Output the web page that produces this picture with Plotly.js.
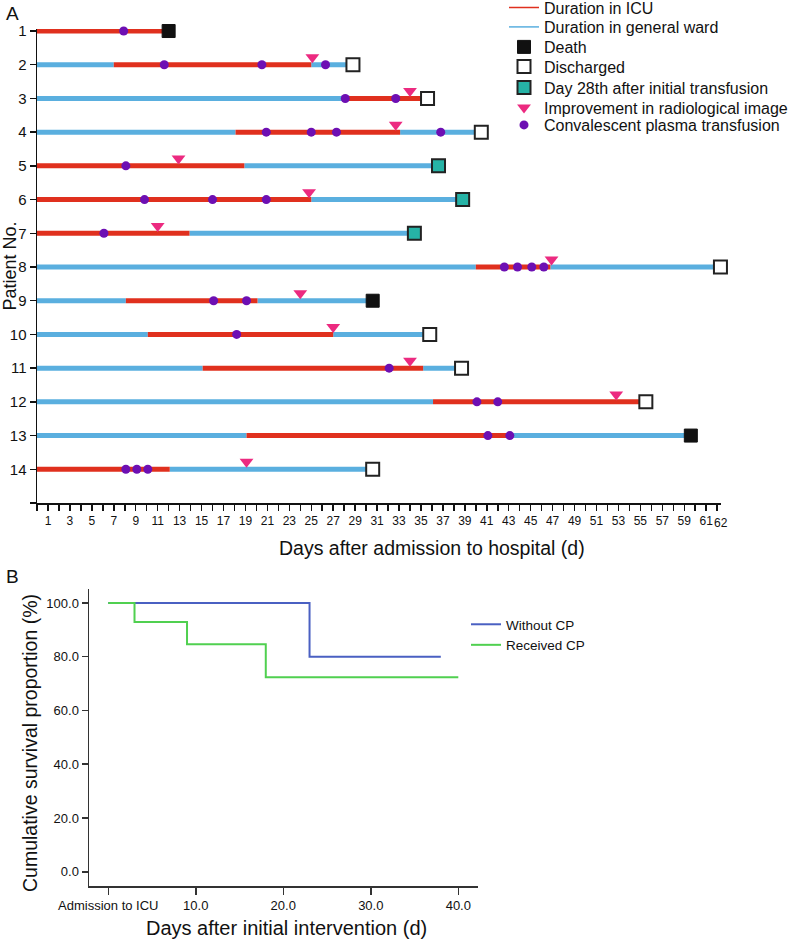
<!DOCTYPE html>
<html>
<head>
<meta charset="utf-8">
<script src="https://cdn.plot.ly/plotly-3.0.1.min.js"></script>
<style>
  html, body { margin: 0; padding: 0; background: #fff; }
  #chart { width: 797px; height: 940px; }
</style>
</head>
<body>
<div id="chart"></div>
<script>
// Panel A: one row per patient
const patients = [1, 2, 3, 4, 5, 6, 7, 8, 9, 10, 11, 12, 13, 14];
const icuStart = [0, 7, 28.1, 18.1, 0, 0, 0, 40, 8.1, 10.1, 15.1, 36.1, 19.1, 0];
const icuEnd = [12, 25, 35.6, 33.1, 18.9, 25, 13.9, 46.8, 20.1, 27, 35.2, 55.5, 43.1, 12.1];
const endDay = [12, 28.8, 35.6, 40.5, 36.6, 38.8, 34.4, 62.3, 30.6, 35.8, 38.7, 55.5, 59.6, 30.6];
const outcome = ['death', 'discharged', 'discharged', 'discharged', 'day28', 'day28', 'day28',
  'discharged', 'death', 'discharged', 'discharged', 'discharged', 'death', 'discharged'];

// improvement in radiological image
const imgPatient = [2, 3, 4, 5, 6, 7, 8, 9, 10, 11, 12, 14];
const imgDay = [25.1, 34.0, 32.7, 12.9, 24.8, 11.0, 46.9, 24.0, 27.0, 34.0, 52.8, 19.1];

// convalescent plasma transfusions
const cpPatient = [1, 2, 2, 2, 3, 3, 4, 4, 4, 4, 5, 6, 6, 6, 7, 8, 8, 8, 8, 9, 9, 10, 11, 12, 12, 13, 13, 14, 14, 14];
const cpDay = [7.9, 11.6, 20.5, 26.3, 28.1, 32.7, 20.9, 25.0, 27.3, 36.8, 8.1, 9.8, 16.0, 20.9, 6.1,
  42.6, 43.8, 45.1, 46.2, 16.1, 19.1, 18.2, 32.1, 40.1, 42.0, 41.1, 43.1, 8.1, 9.1, 10.1];

// Panel B: Kaplan-Meier curves
const withoutDays = [0, 23, 38];
const withoutSurv = [100, 80, 80];
const receivedDays = [0, 3, 9, 18, 40];
const receivedSurv = [100, 92.9, 84.6, 72.4, 72.4];
const kmTicks = [0, 10, 20, 30, 40];
const kmLabels = ['Admission to ICU', '10.0', '20.0', '30.0', '40.0'];

// day axis: every day ticked, odd days labelled (62 added as annotation)
const dayTicks = [];
const dayLabels = [];
for (let d = 0; d <= 62; d++) {
  dayTicks.push(d);
  dayLabels.push(d % 2 === 1 ? String(d) : '');
}

const FONT = 'Liberation Sans, Arial, sans-serif';
const RED = '#e0301e';
const BLUE = '#5aafdf';

// build segments
const icuX = [], icuY = [], wardX = [], wardY = [];
patients.forEach((p, i) => {
  icuX.push(icuStart[i], icuEnd[i], null);
  icuY.push(p, p, null);
  if (icuStart[i] > 0) {
    wardX.push(0, icuStart[i], null);
    wardY.push(p, p, null);
  }
  if (endDay[i] > icuEnd[i]) {
    wardX.push(icuEnd[i], endDay[i], null);
    wardY.push(p, p, null);
  }
});

const pick = (kind) => {
  const xs = [], ys = [];
  patients.forEach((p, i) => {
    if (outcome[i] === kind) { xs.push(endDay[i]); ys.push(p); }
  });
  return { x: xs, y: ys };
};
const death = pick('death');
const disch = pick('discharged');
const day28 = pick('day28');

const base = { xaxis: 'x', yaxis: 'y', type: 'scatter', cliponaxis: false, hoverinfo: 'skip' };

const data = [
  Object.assign({}, base, { x: wardX, y: wardY, mode: 'lines', line: { color: BLUE, width: 5 }, showlegend: false }),
  Object.assign({}, base, { x: icuX, y: icuY, mode: 'lines', line: { color: RED, width: 5 }, showlegend: false }),
  // legend-only entries with thin lines
  Object.assign({}, base, { x: [null], y: [null], mode: 'lines', line: { color: RED, width: 1.5 },
    name: 'Duration in ICU', legend: 'legend' }),
  Object.assign({}, base, { x: [null], y: [null], mode: 'lines', line: { color: BLUE, width: 1.5 },
    name: 'Duration in general ward', legend: 'legend2' }),
  Object.assign({}, base, { x: death.x, y: death.y, mode: 'markers', name: 'Death', legend: 'legend3',
    marker: { symbol: 'square', size: 13, color: '#111111', line: { color: '#111111', width: 1 } } }),
  Object.assign({}, base, { x: disch.x, y: disch.y, mode: 'markers', name: 'Discharged', legend: 'legend4',
    marker: { symbol: 'square', size: 13, color: '#ffffff', line: { color: '#222222', width: 2 } } }),
  Object.assign({}, base, { x: day28.x, y: day28.y, mode: 'markers', name: 'Day 28th after initial transfusion', legend: 'legend5',
    marker: { symbol: 'square', size: 13, color: '#26b3a6', line: { color: '#222222', width: 2 } } }),
  Object.assign({}, base, { x: imgDay, y: imgPatient.map(p => p - 0.22), mode: 'markers',
    name: 'Improvement in radiological image', legend: 'legend6',
    marker: { symbol: 'triangle-down', size: 12, color: '#ec2a80' } }),
  Object.assign({}, base, { x: cpDay, y: cpPatient, mode: 'markers', name: 'Convalescent plasma transfusion', legend: 'legend7',
    marker: { symbol: 'circle', size: 9, color: '#6d0fb3' } }),
  // panel B
  { x: withoutDays, y: withoutSurv, xaxis: 'x2', yaxis: 'y2', type: 'scatter', mode: 'lines',
    line: { shape: 'hv', color: '#4a60c2', width: 2 }, name: 'Without CP', legend: 'legend8', hoverinfo: 'skip' },
  { x: receivedDays, y: receivedSurv, xaxis: 'x2', yaxis: 'y2', type: 'scatter', mode: 'lines',
    line: { shape: 'hv', color: '#50d050', width: 2 }, name: 'Received CP', legend: 'legend8', hoverinfo: 'skip' }
];

const axisStyle = {
  ticks: 'outside',
  tickwidth: 1.5,
  tickcolor: '#111',
  showline: true,
  linecolor: '#111',
  linewidth: 1.5,
  showgrid: false,
  zeroline: false
};

const legendRows = [7.5, 27, 47, 66.5, 87.5, 107.5, 125];
const legendA = (row) => ({
  x: 504 / 797,
  y: 1 - row / 940,
  xanchor: 'left',
  yanchor: 'middle',
  bgcolor: 'rgba(0,0,0,0)',
  font: { size: 16, color: '#111' },
  itemwidth: 30
});

const layout = {
  width: 797,
  height: 940,
  margin: { l: 0, r: 0, t: 0, b: 0, autoexpand: false },
  paper_bgcolor: '#ffffff',
  plot_bgcolor: '#ffffff',
  font: { family: FONT, color: '#111111' },
  xaxis: Object.assign({}, axisStyle, {
    domain: [37 / 797, 721 / 797],
    anchor: 'y',
    range: [0, 62.35],
    tickvals: dayTicks,
    ticktext: dayLabels,
    tickangle: 0,
    ticklen: 6,
    tickfont: { size: 12, color: '#111' }
  }),
  yaxis: Object.assign({}, axisStyle, {
    domain: [1 - 503 / 940, 1 - 29 / 940],
    anchor: 'x',
    range: [15, 0.94],
    tickvals: patients.concat([15]),
    ticktext: patients.map(String).concat(['']),
    ticklen: 6,
    tickfont: { size: 15, color: '#111' },
    title: { text: 'Patient No.', font: { size: 18, color: '#111' }, standoff: 5 }
  }),
  xaxis2: Object.assign({}, axisStyle, {
    domain: [89 / 797, 478 / 797],
    anchor: 'y2',
    range: [-2.2, 42.25],
    tickvals: kmTicks,
    ticktext: kmLabels,
    tickangle: 0,
    ticklen: 7,
    tickcolor: '#333',
    linecolor: '#333',
    tickfont: { size: 13, color: '#111' }
  }),
  yaxis2: Object.assign({}, axisStyle, {
    domain: [1 - 886 / 940, 1 - 589 / 940],
    anchor: 'x2',
    range: [-5.3, 105.2],
    tickvals: [0, 20, 40, 60, 80, 100],
    tickformat: '.1f',
    ticklen: 6,
    tickcolor: '#333',
    linecolor: '#333',
    tickfont: { size: 13, color: '#111' }
  }),
  legend: legendA(legendRows[0]),
  legend2: legendA(legendRows[1]),
  legend3: legendA(legendRows[2]),
  legend4: legendA(legendRows[3]),
  legend5: legendA(legendRows[4]),
  legend6: legendA(legendRows[5]),
  legend7: legendA(legendRows[6]),
  legend8: {
    x: 466 / 797,
    y: 1 - 609 / 940,
    xanchor: 'left',
    yanchor: 'top',
    bgcolor: 'rgba(0,0,0,0)',
    font: { size: 13.5, color: '#111' },
    itemwidth: 30
  },
  annotations: [
    { text: 'A', xref: 'paper', yref: 'paper', x: 4 / 797, y: 1 - 14 / 940, xanchor: 'left', yanchor: 'middle',
      showarrow: false, font: { size: 19, color: '#111' } },
    { text: 'B', xref: 'paper', yref: 'paper', x: 4 / 797, y: 1 - 576 / 940, xanchor: 'left', yanchor: 'middle',
      showarrow: false, font: { size: 19, color: '#111' } },
    { text: '62', xref: 'x', yref: 'paper', x: 62, xshift: 4, y: 1 - 523 / 940, xanchor: 'center', yanchor: 'middle',
      showarrow: false, font: { size: 12, color: '#111' } },
    { text: 'Days after admission to hospital (d)', xref: 'paper', yref: 'paper', x: 432 / 797, y: 1 - 548 / 940,
      xanchor: 'center', yanchor: 'middle', showarrow: false, font: { size: 19.5, color: '#111' } },
    { text: 'Days after initial intervention (d)', xref: 'paper', yref: 'paper', x: 286.5 / 797, y: 1 - 928 / 940,
      xanchor: 'center', yanchor: 'middle', showarrow: false, font: { size: 20, color: '#111' } },
    { text: 'Cumulative survival proportion (%)', xref: 'paper', yref: 'paper', x: 29.5 / 797, y: 1 - 743.5 / 940,
      xanchor: 'center', yanchor: 'middle', textangle: -90, showarrow: false, font: { size: 19.5, color: '#111' } }
  ]
};

Plotly.newPlot('chart', data, layout, { displayModeBar: false, staticPlot: true });
</script>
</body>
</html>
